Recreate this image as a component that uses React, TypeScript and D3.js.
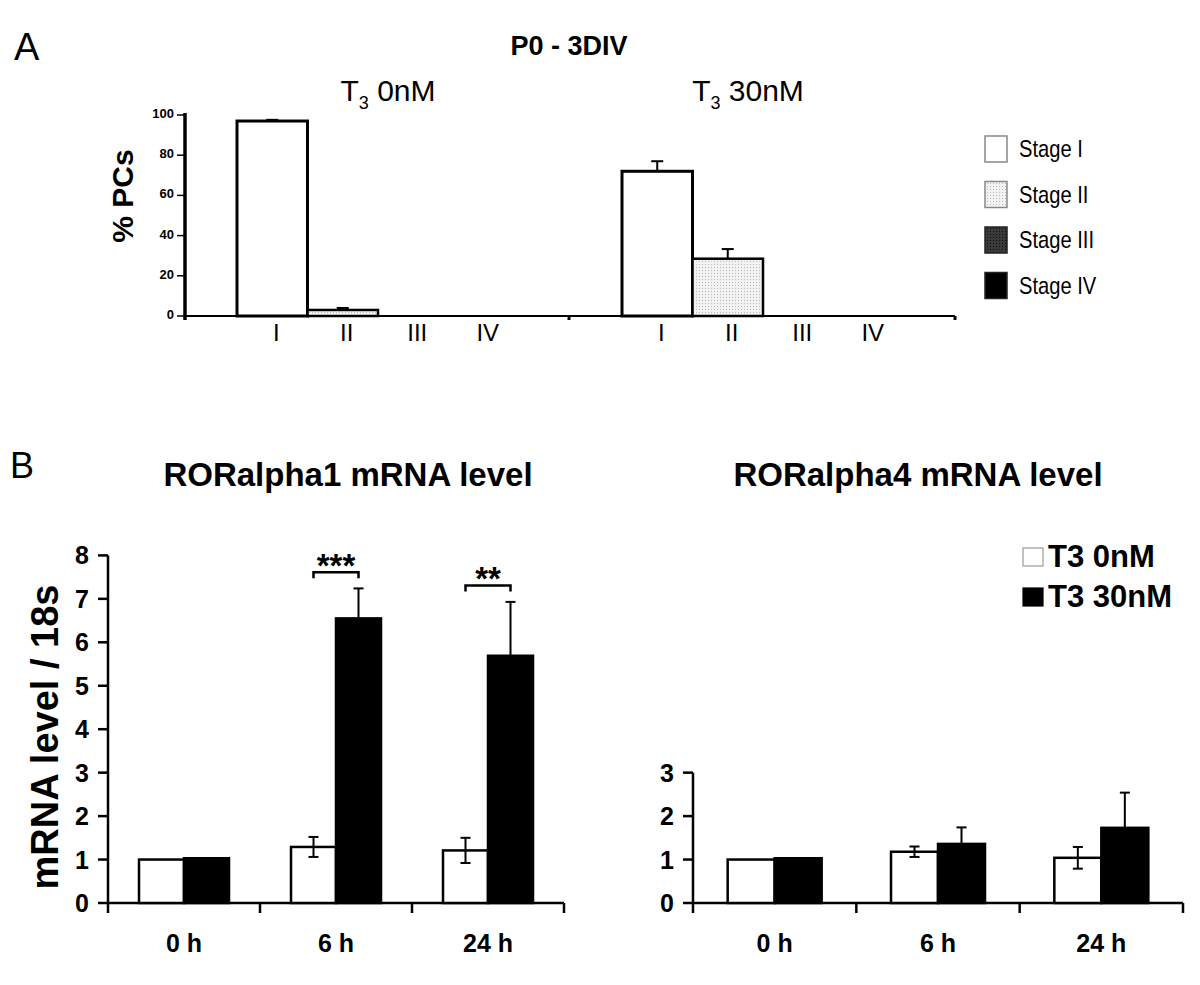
import React from "react";
import * as d3 from "d3";

// ---------- Panel A data ----------
const stages = ["I", "II", "III", "IV"];
const conditionsA = ["T3 0nM", "T3 30nM"];
const pctT0 = [97, 3, 0, 0];
const errT0 = [0.6, 1, 0, 0];
const pctT30 = [72, 28.5, 0, 0];
const errT30 = [5, 4.8, 0, 0];
const yTicksA = [0, 20, 40, 60, 80, 100];
const legendA = ["Stage I", "Stage II", "Stage III", "Stage IV"];

// ---------- Panel B data ----------
const timepoints = ["0 h", "6 h", "24 h"];
const treatments = ["T3 0nM", "T3 30nM"];
const ror1T0 = [1.0, 1.29, 1.21];
const ror1T0Err = [0, 0.23, 0.29];
const ror1T30 = [1.03, 6.55, 5.69];
const ror1T30Err = [0, 0.69, 1.24];
const ror4T0 = [1.0, 1.18, 1.04];
const ror4T0Err = [0, 0.12, 0.25];
const ror4T30 = [1.03, 1.36, 1.73];
const ror4T30Err = [0, 0.38, 0.81];
const yTicksB1 = [0, 1, 2, 3, 4, 5, 6, 7, 8];
const yTicksB4 = [0, 1, 2, 3];
const sigTimes = ["6 h", "24 h"];
const sigLabels = ["***", "**"];
const sigLevels = [7.61, 7.31];

const SANS = "'Liberation Sans', Arial, Helvetica, sans-serif";

const stageFill = (i: number) =>
  i === 0 ? "#ffffff" : i === 1 ? "url(#dotsLight)" : i === 2 ? "url(#dotsDark)" : "#000000";

function PanelA() {
  const y = d3.scaleLinear().domain([0, 100]).range([316, 115]);
  const group = d3.scaleBand().domain(conditionsA).range([185, 955]);
  const stageX = d3.scaleBand().domain(stages).range([52, 52 + 4 * 70.5]);
  const values = [pctT0, pctT30];
  const errs = [errT0, errT30];
  const headerX = [388, 748];

  return (
    <g>
      <text x={14} y={60} fontFamily={SANS} fontSize={38}>A</text>
      <text x={569} y={55} textAnchor="middle" fontFamily={SANS} fontWeight="bold" fontSize={27}>P0 - 3DIV</text>
      {conditionsA.map((c, gi) => (
        <text key={c} x={headerX[gi]} y={101} textAnchor="middle" fontFamily={SANS} fontSize={30}>
          T<tspan fontSize={18} dy={8}>3</tspan>
          <tspan dy={-8}>{" " + c.split(" ")[1]}</tspan>
        </text>
      ))}
      {/* y axis */}
      <line x1={185} x2={185} y1={y(100) - 2} y2={y(0) + 4} stroke="#000" strokeWidth={3.5} />
      {yTicksA.map((t) => (
        <g key={t}>
          <line x1={177} x2={185} y1={y(t)} y2={y(t)} stroke="#000" strokeWidth={1.5} />
          <text x={174} y={y(t) + 3} textAnchor="end" fontFamily={SANS} fontWeight="bold" fontSize={13}>{t}</text>
        </g>
      ))}
      <text transform={`translate(133,${196}) rotate(-90)`} textAnchor="middle" fontFamily={SANS} fontWeight="bold" fontSize={30}>% PCs</text>
      {/* x axis */}
      <line x1={185} x2={955} y1={y(0)} y2={y(0)} stroke="#000" strokeWidth={2} />
      {[569, 955].map((t) => (
        <line key={t} x1={t} x2={t} y1={y(0)} y2={y(0) + 4} stroke="#000" strokeWidth={3} />
      ))}
      {conditionsA.map((c, gi) => {
        const g0 = group(c)!;
        return (
          <g key={c}>
            {stages.map((s, si) => {
              const v = values[gi][si];
              const e = errs[gi][si];
              const x0 = g0 + stageX(s)!;
              const w = stageX.bandwidth();
              return (
                <g key={s}>
                  {v > 0 && (
                    <>
                      <line x1={x0 + w / 2} x2={x0 + w / 2} y1={y(v)} y2={y(v + e)} stroke="#000" strokeWidth={2} />
                      <line x1={x0 + w / 2 - 6} x2={x0 + w / 2 + 6} y1={y(v + e)} y2={y(v + e)} stroke="#000" strokeWidth={2} />
                      <rect x={x0} y={y(v)} width={w} height={y(0) - y(v)} fill={stageFill(si)} stroke="#000" strokeWidth={si === 0 ? 3 : 2.5} />
                    </>
                  )}
                  <text x={x0 + w / 2 + 4} y={341} textAnchor="middle" fontFamily={SANS} fontSize={24}>{s}</text>
                </g>
              );
            })}
          </g>
        );
      })}
      {/* legend */}
      {legendA.map((l, i) => {
        const ly = 136 + i * 45.5;
        return (
          <g key={l}>
            <rect x={985} y={ly} width={22} height={26} fill={stageFill(i)} stroke={i < 2 ? "#888" : "#222"} strokeWidth={1.5} />
            <text transform={`translate(1019,${ly + 21}) scale(0.84,1)`} fontFamily={SANS} fontSize={24}>{l}</text>
          </g>
        );
      })}
    </g>
  );
}

type BarPanelProps = {
  x0: number;
  x1: number;
  ymax: number;
  ticks: number[];
  t0: number[];
  t0e: number[];
  t30: number[];
  t30e: number[];
  barW: number;
  title: string;
  titleX: number;
  sig?: boolean;
};

function BarPanel(p: BarPanelProps) {
  const y = d3.scaleLinear().domain([0, p.ymax]).range([903, 903 - p.ymax * 43.45]);
  const xg = d3.scaleBand().domain(timepoints).range([p.x0, p.x1]);
  const sw = 2.5;
  return (
    <g>
      <text x={p.titleX} y={486} textAnchor="middle" fontFamily={SANS} fontWeight="bold" fontSize={33}>{p.title}</text>
      <line x1={p.x0} x2={p.x0} y1={y(p.ymax)} y2={y(0) + 10} stroke="#000" strokeWidth={sw} />
      {p.ticks.map((t) => (
        <g key={t}>
          <line x1={p.x0 - 10} x2={p.x0} y1={y(t)} y2={y(t)} stroke="#000" strokeWidth={sw} />
          <text x={p.x0 - 19} y={y(t) + 9} textAnchor="end" fontFamily={SANS} fontWeight="bold" fontSize={25}>{t}</text>
        </g>
      ))}
      <line x1={p.x0} x2={p.x1} y1={y(0)} y2={y(0)} stroke="#000" strokeWidth={sw} />
      {timepoints.map((tp, i) => {
        const gx = xg(tp)!;
        const c = gx + xg.bandwidth() / 2;
        const sub = d3.scaleBand().domain(treatments).range([c - p.barW, c + p.barW]);
        const wx = sub("T3 0nM")!;
        const bx = sub("T3 30nM")!;
        const w = sub.bandwidth();
        const v0 = p.t0[i], e0 = p.t0e[i], v1 = p.t30[i], e1 = p.t30e[i];
        return (
          <g key={tp}>
            <line x1={gx + xg.bandwidth()} x2={gx + xg.bandwidth()} y1={y(0)} y2={y(0) + 10} stroke="#000" strokeWidth={sw} />
            <rect x={wx} y={y(v0)} width={w} height={y(0) - y(v0)} fill="#fff" stroke="#000" strokeWidth={sw} />
            <rect x={bx} y={y(v1)} width={w} height={y(0) - y(v1)} fill="#000" stroke="#000" strokeWidth={sw} />
            {e0 > 0 && (
              <g stroke="#000" strokeWidth={2}>
                <line x1={wx + w / 2} x2={wx + w / 2} y1={y(v0 - e0)} y2={y(v0 + e0)} />
                <line x1={wx + w / 2 - 5} x2={wx + w / 2 + 5} y1={y(v0 - e0)} y2={y(v0 - e0)} />
                <line x1={wx + w / 2 - 5} x2={wx + w / 2 + 5} y1={y(v0 + e0)} y2={y(v0 + e0)} />
              </g>
            )}
            {e1 > 0 && (
              <g stroke="#000" strokeWidth={2}>
                <line x1={bx + w / 2} x2={bx + w / 2} y1={y(v1)} y2={y(v1 + e1)} />
                <line x1={bx + w / 2 - 5} x2={bx + w / 2 + 5} y1={y(v1 + e1)} y2={y(v1 + e1)} />
              </g>
            )}
            <text x={c} y={952} textAnchor="middle" fontFamily={SANS} fontWeight="bold" fontSize={25}>{tp}</text>
            {p.sig && sigTimes.indexOf(tp) >= 0 && (() => {
              const k = sigTimes.indexOf(tp);
              const by = y(sigLevels[k]);
              const xa = wx + w / 2;
              const xb = bx + w / 2;
              return (
                <g>
                  <path d={`M${xa},${by + 6}V${by}H${xb}V${by + 6}`} fill="none" stroke="#000" strokeWidth={2.5} />
                  <text x={(xa + xb) / 2} y={by + 5} textAnchor="middle" fontFamily={SANS} fontWeight="bold" fontSize={33}>{sigLabels[k]}</text>
                </g>
              );
            })()}
          </g>
        );
      })}
    </g>
  );
}

export default function App() {
  return (
    <svg width={1200} height={985} style={{ position: "absolute", left: 0, top: 0, background: "#fff" }}>
      <defs>
        <pattern id="dotsLight" width="3" height="3" patternUnits="userSpaceOnUse">
          <rect width="3" height="3" fill="#f2f2f2" />
          <rect width="1" height="1" fill="#b8b8b8" />
        </pattern>
        <pattern id="dotsDark" width="3" height="3" patternUnits="userSpaceOnUse">
          <rect width="3" height="3" fill="#3a3a3a" />
          <rect width="1" height="1" fill="#111" />
        </pattern>
      </defs>
      <rect width={1200} height={985} fill="#fff" />
      <PanelA />
      <text x={10} y={478} fontFamily={SANS} fontSize={36}>B</text>
      <text transform={`translate(58,737) rotate(-90)`} textAnchor="middle" fontFamily={SANS} fontWeight="bold" fontSize={38}>mRNA level / 18s</text>
      <BarPanel x0={108} x1={564} ymax={8} ticks={yTicksB1} t0={ror1T0} t0e={ror1T0Err} t30={ror1T30} t30e={ror1T30Err} barW={45} title="RORalpha1 mRNA level" titleX={348} sig />
      <BarPanel x0={693} x1={1183} ymax={3} ticks={yTicksB4} t0={ror4T0} t0e={ror4T0Err} t30={ror4T30} t30e={ror4T30Err} barW={47} title="RORalpha4 mRNA level" titleX={918} />
      {treatments.map((t, i) => (
        <g key={t}>
          <rect x={1023} y={548 + i * 40} width={20} height={18} fill={i === 0 ? "#fff" : "#000"} stroke={i === 0 ? "#999" : "#000"} strokeWidth={1.2} />
          <text x={1048} y={567 + i * 40} fontFamily={SANS} fontWeight="bold" fontSize={31}>{t}</text>
        </g>
      ))}
    </svg>
  );
}
